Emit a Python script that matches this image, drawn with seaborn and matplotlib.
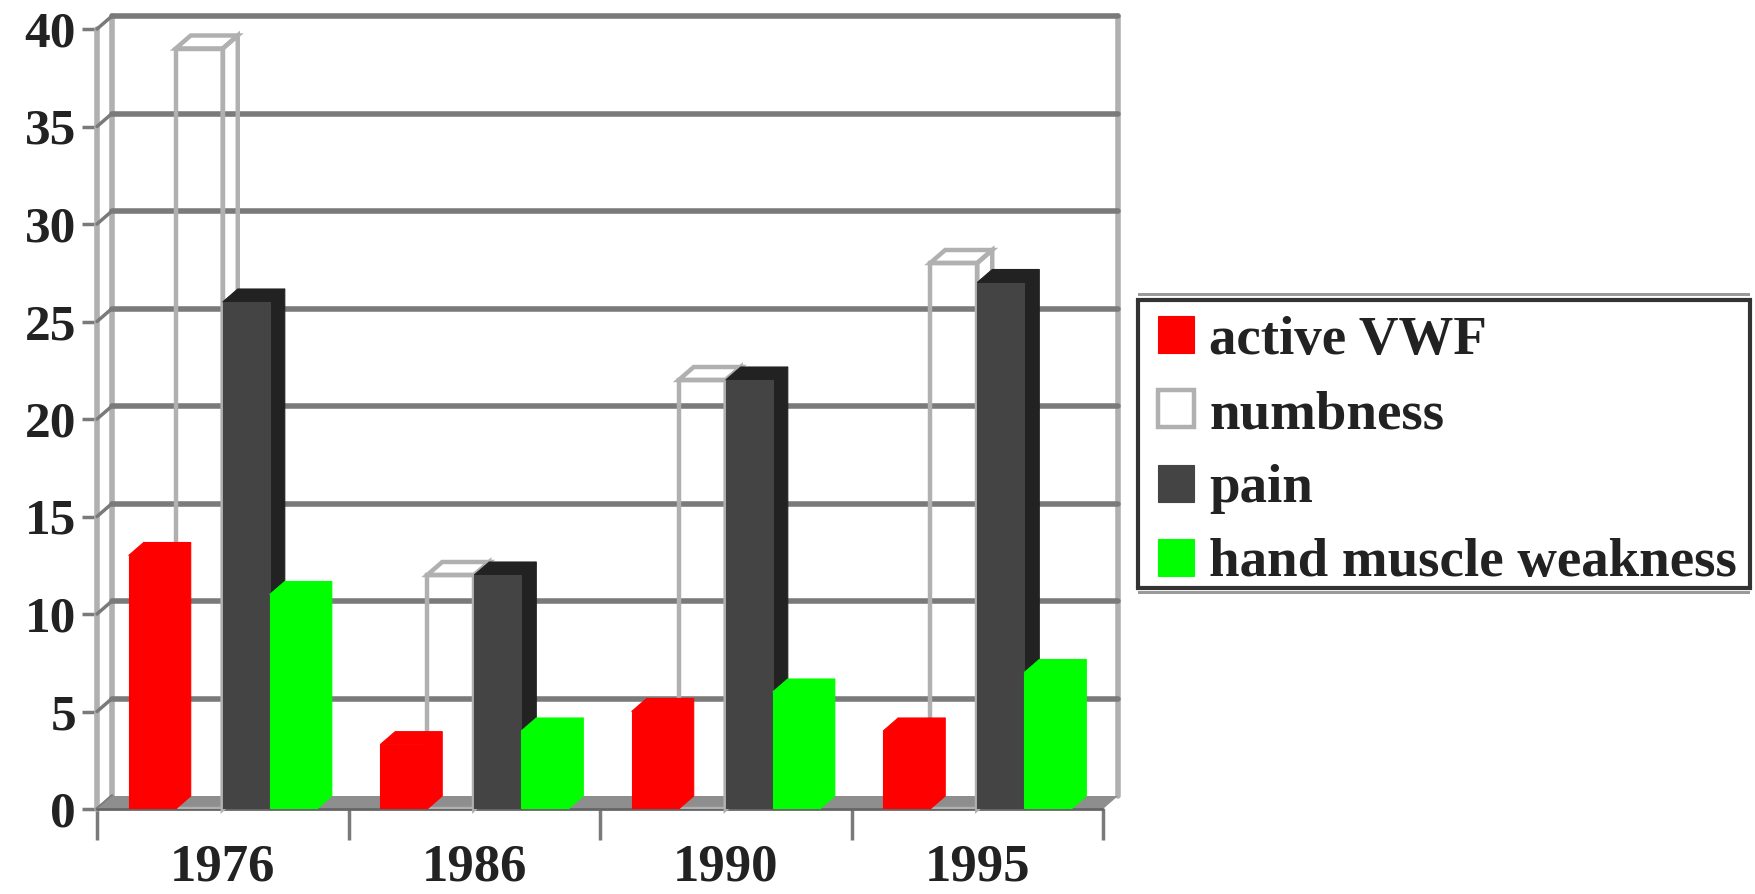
import matplotlib
matplotlib.use("Agg")
import matplotlib.pyplot as plt
from matplotlib.patches import Polygon, Rectangle
from matplotlib.transforms import offset_copy
import pandas as pd
import seaborn as sns

years = ["1976", "1986", "1990", "1995"]
series_names = ["active VWF", "numbness", "pain", "hand muscle weakness"]
active_vwf = [13, 3.3, 5, 4]
numbness = [39, 12, 22, 28]
pain = [26, 12, 22, 27]
hand_weakness = [11, 4, 6, 7]
y_ticks = [0, 5, 10, 15, 20, 25, 30, 35, 40]

colors = ["#ff0000", "#ffffff", "#444444", "#00ff00"]
fill_colors = ["#ff0000", "none", "#444444", "#00ff00"]
side_colors = ["#ff0000", "none", "#222222", "#00ff00"]
side_edges = ["#ff0000", "#b0b0b0", "#222222", "#00ff00"]
edge_colors = ["#ff0000", "#b0b0b0", "#444444", "#00ff00"]
line_w = [0.8, 3.2, 0.8, 0.8]

df = pd.DataFrame({
    "year": years * 4,
    "series": [n for n in series_names for _ in years],
    "value": active_vwf + numbness + pain + hand_weakness,
})

sns.set_theme(style="white")
plt.rcParams["font.family"] = ["Liberation Serif", "DejaVu Serif"]
plt.rcParams["font.weight"] = "bold"

W, H = 1755, 894
fig = plt.figure(figsize=(W / 100, H / 100), dpi=100)
ax = fig.add_axes([97 / W, (H - 809) / H, 1006 / W, 780 / H])

sns.barplot(data=df, x="year", y="value", hue="series", order=years,
            hue_order=series_names, palette=dict(zip(series_names, colors)),
            width=0.748, gap=0, saturation=1, legend=False, ax=ax)
ax.set_xlim(-0.5, 3.5)
ax.set_ylim(0, 40)
ax.set_xlabel("")
ax.set_ylabel("")
sns.despine(ax=ax, left=True, bottom=True)
ax.patch.set_alpha(0)

# depth of the pseudo-3D drawing, in pixels and data units
DX, DY = 15, 13
dxd = DX / (1006 / 4)
dyd = DY / (780 / 40)
back = offset_copy(ax.transData, fig=fig, x=DX, y=DY, units="dots")
GRID = "#7a7a7a"
WALL = "#b0b0b0"

# back wall, floor, side walls
for v in y_ticks[1:]:
    ax.plot([-0.5, 3.5], [v, v], transform=back, color=GRID, lw=4, clip_on=False, zorder=1)
ax.plot([-0.5, -0.5], [0, y_ticks[-1]], transform=back, color=WALL, lw=4, clip_on=False, zorder=0.9)
ax.plot([3.5, 3.5], [0, y_ticks[-1]], transform=back, color=WALL, lw=4, clip_on=False, zorder=0.9)
ax.plot([-0.5, -0.5], [0, y_ticks[-1]], color=WALL, lw=4, clip_on=False, zorder=0.9)
for v in y_ticks:
    ax.plot([-0.5, -0.5 + dxd], [v, v + dyd], color=GRID, lw=2.5, clip_on=False, zorder=1)
ax.add_patch(Polygon([(-0.5, 0), (3.5, 0), (3.5 + dxd, dyd), (-0.5 + dxd, dyd)],
                     closed=True, fc="#8e8e8e", ec="none", zorder=1.5, clip_on=False))
ax.plot([-0.5, 3.5], [0, 0], color="#666666", lw=2, clip_on=False, zorder=1.6)

# bars with their depth, from the bars seaborn drew
draw_order = [1, 2, 0, 3]
for rank, i in enumerate(draw_order):
    z = 2 + rank
    for bar in ax.containers[i]:
        x0, x1 = bar.get_x(), bar.get_x() + bar.get_width()
        h = bar.get_height()
        top = [(x0, h), (x1, h), (x1 + dxd, h + dyd), (x0 + dxd, h + dyd)]
        side = [(x1, 0), (x1 + dxd, dyd), (x1 + dxd, h + dyd), (x1, h)]
        for pts in (side, top):
            ax.add_patch(Polygon(pts, closed=True, fc=side_colors[i], ec=side_edges[i],
                                 lw=line_w[i], zorder=z, clip_on=False))
        bar.set_facecolor(fill_colors[i])
        bar.set_edgecolor(edge_colors[i])
        bar.set_linewidth(line_w[i])
        bar.set_zorder(z + 0.5)

# ticks
ax.set_yticks(y_ticks)
ax.tick_params(axis="y", left=True, length=11, width=2.5, color=GRID, labelsize=37, pad=4,
               labelcolor="#222222")
ax.set_xticks(range(len(years)))
ax.set_xticklabels(years)
ax.set_xticks([-0.5, 0.5, 1.5, 2.5, 3.5], minor=True)
ax.tick_params(axis="x", which="major", bottom=False, length=0, labelsize=38, pad=25,
               labelcolor="#222222")
ax.tick_params(axis="x", which="minor", bottom=True, length=22, width=2.5, color=GRID)

# legend: box drawn in figure pixels, entries placed inside it
L, R, T, B = 1138, 1750, 300, 588
fig.add_artist(Rectangle((L, H - T + 4), R - L, 3, transform=None, fc="#9a9a9a", ec="none"))
fig.add_artist(Rectangle((L, H - B - 6), R - L, 3, transform=None, fc="#9a9a9a", ec="none"))
fig.add_artist(Rectangle((L, H - B), R - L, B - T, transform=None, fc="white", ec="#333333", lw=3))
handles = [c.patches[0] for c in ax.containers]
leg = ax.legend(handles, series_names, loc="upper left",
                bbox_to_anchor=(1158 / W, (H - 316) / H), bbox_transform=fig.transFigure,
                fontsize=39.5, frameon=False, handlelength=0.66, handleheight=0.66,
                handletextpad=0.27, labelspacing=0.44, borderpad=0,
                borderaxespad=0, labelcolor="#222222")
leg.set_zorder(20)
ax.set_zorder(3)

fig.savefig("out.png", dpi=100)
